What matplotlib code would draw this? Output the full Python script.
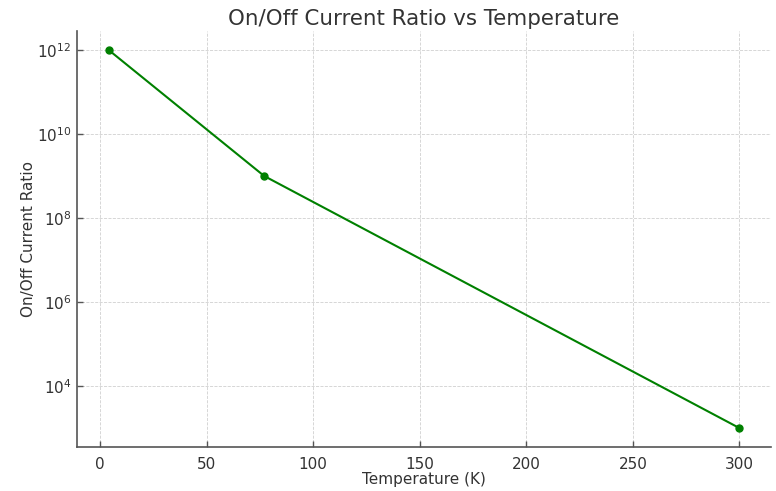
import numpy as np
import matplotlib
matplotlib.use('Agg')
import matplotlib.pyplot as plt

temperature_k = [4, 77, 300]
on_off_ratio = [1e12, 1e9, 1e3]

TEXT_COLOR = '#333333'
SPINE_COLOR = '#555555'

fig = plt.figure(figsize=(7.76, 4.91), dpi=100)
ax = fig.add_axes([77 / 776, 1 - 447 / 491, (771 - 77) / 776, (447 - 31) / 491])

ax.plot(temperature_k, on_off_ratio, color='green', marker='o', markersize=5, linewidth=1.5)
ax.set_yscale('log')
ax.set_yticks([1e4, 1e6, 1e8, 1e10, 1e12])
ax.yaxis.set_minor_locator(matplotlib.ticker.NullLocator())

ax.set_title('On/Off Current Ratio vs Temperature', fontsize=15.4, color=TEXT_COLOR, pad=4)
ax.set_xlabel('Temperature (K)', fontsize=11, color=TEXT_COLOR, labelpad=0)
ax.set_ylabel('On/Off Current Ratio', fontsize=11, color=TEXT_COLOR, labelpad=1)

ax.grid(True, linestyle='--', color='#d0d0d0', linewidth=0.6)
ax.set_axisbelow(True)
for side in ['top', 'right']:
    ax.spines[side].set_visible(False)
for side in ['left', 'bottom']:
    ax.spines[side].set_color(SPINE_COLOR)
    ax.spines[side].set_linewidth(1.2)
ax.tick_params(direction='in', length=4, width=1, color=SPINE_COLOR, labelsize=11, labelcolor=TEXT_COLOR)
ax.tick_params(axis='x', pad=7)
ax.tick_params(axis='y', pad=4)

fig.savefig('out.png', dpi=100)
